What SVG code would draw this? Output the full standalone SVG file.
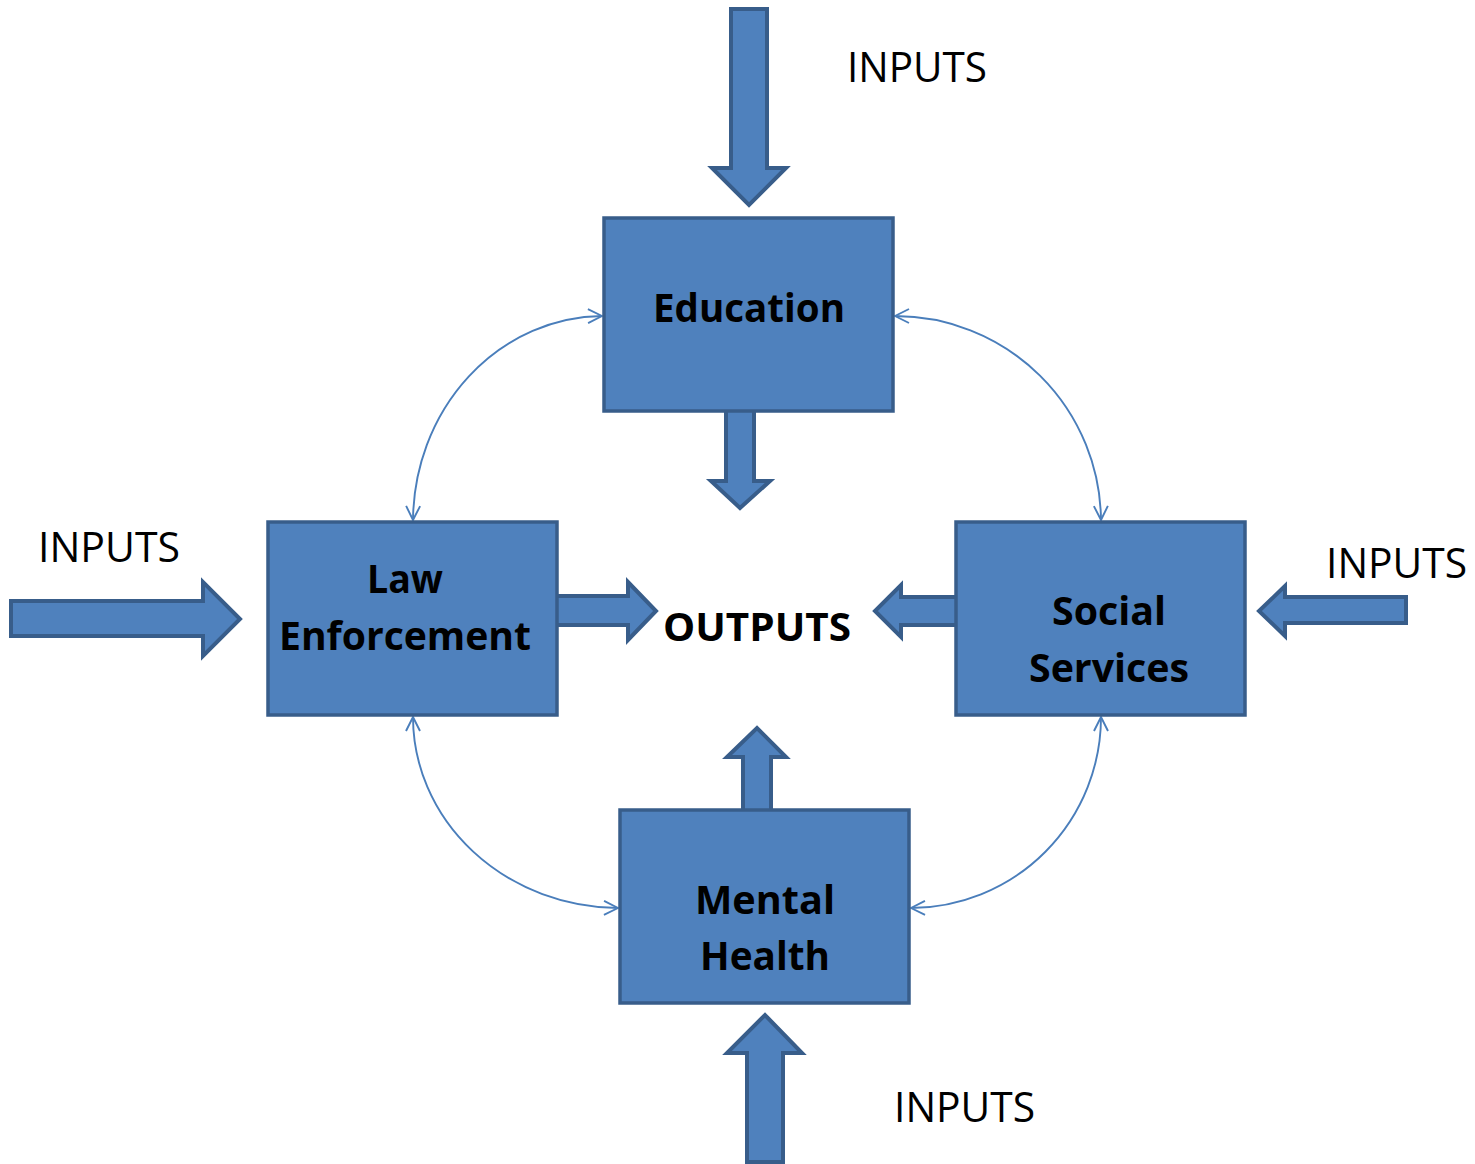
<svg xmlns="http://www.w3.org/2000/svg" width="1475" height="1164" viewBox="0 0 1475 1164">
<style>
.box{fill:#4f81bd;stroke:#385d8a;stroke-width:3.5}
.blk{fill:#4f81bd;stroke:#385d8a;stroke-width:4;stroke-linejoin:miter}
.con{fill:none;stroke:#4a7ebb;stroke-width:1.9}
.lbl{font-family:"Open Sans","Noto Sans","Liberation Sans",sans-serif;font-weight:bold;font-size:40px;fill:#000;text-anchor:middle}
.inp{font-family:"Open Sans","Noto Sans","Liberation Sans",sans-serif;font-size:42px;fill:#000}
</style>
<defs>
<marker id="ah" viewBox="0 0 16 16" markerWidth="16" markerHeight="16" refX="15" refY="8" orient="auto-start-reverse" markerUnits="userSpaceOnUse">
<path d="M1,1 L15,8 L1,15" fill="none" stroke="#4a7ebb" stroke-width="1.9"/>
</marker>
</defs>
<rect width="1475" height="1164" fill="#fff"/>
<g id="connectors">
<path class="con" d="M602,316 A191 206 0 0 0 413,520" marker-start="url(#ah)" marker-end="url(#ah)"/>
<path class="con" d="M895,316 A206 206 0 0 1 1101,520" marker-start="url(#ah)" marker-end="url(#ah)"/>
<path class="con" d="M413,717 A207 191 0 0 0 618,908" marker-start="url(#ah)" marker-end="url(#ah)"/>
<path class="con" d="M1101,717 A191 191 0 0 1 911,908" marker-start="url(#ah)" marker-end="url(#ah)"/>
</g>
<g id="block-arrows">
<polygon class="blk" points="731,9 767,9 767,168 786,168 749,205 712,168 731,168"/>
<polygon class="blk" points="726,405 754,405 754,481 770,481 740,508 711,481 726,481"/>
<polygon class="blk" points="11,601 203,601 203,582 240,619 203,656 203,636 11,636"/>
<polygon class="blk" points="552,596 628,596 628,582 656,611 628,640 628,625 552,625"/>
<polygon class="blk" points="961,597 901,597 901,585 875,611 901,637 901,625 961,625"/>
<polygon class="blk" points="1406,597 1285,597 1285,586 1259,611 1285,636 1285,623 1406,623"/>
<polygon class="blk" points="743,815 743,757 727,757 757,728 786,757 771,757 771,815"/>
<polygon class="blk" points="747,1162 747,1053 727,1053 765,1015 802,1053 783,1053 783,1162"/>
</g>
<g id="education">
<rect class="box" x="604" y="218" width="289" height="193"/>
<text class="lbl" x="749" y="322" textLength="192" lengthAdjust="spacingAndGlyphs">Education</text>
</g>
<g id="law-enforcement">
<rect class="box" x="268" y="522" width="289" height="193"/>
<text class="lbl" x="405" y="593" textLength="76" lengthAdjust="spacingAndGlyphs">Law</text>
<text class="lbl" x="405" y="650" textLength="252" lengthAdjust="spacingAndGlyphs">Enforcement</text>
</g>
<g id="social-services">
<rect class="box" x="956" y="522" width="289" height="193"/>
<text class="lbl" x="1109" y="625" textLength="114" lengthAdjust="spacingAndGlyphs">Social</text>
<text class="lbl" x="1109" y="682" textLength="160" lengthAdjust="spacingAndGlyphs">Services</text>
</g>
<g id="mental-health">
<rect class="box" x="620" y="810" width="289" height="193"/>
<text class="lbl" x="765" y="914" textLength="140" lengthAdjust="spacingAndGlyphs">Mental</text>
<text class="lbl" x="765" y="970" textLength="130" lengthAdjust="spacingAndGlyphs">Health</text>
</g>
<g id="outputs">
<text class="lbl" x="757" y="641" textLength="188" lengthAdjust="spacingAndGlyphs">OUTPUTS</text>
</g>
<g id="inputs">
<text class="inp" x="847" y="82" textLength="140" lengthAdjust="spacingAndGlyphs">INPUTS</text>
<text class="inp" x="38" y="562" textLength="142" lengthAdjust="spacingAndGlyphs">INPUTS</text>
<text class="inp" x="1326" y="578" textLength="141" lengthAdjust="spacingAndGlyphs">INPUTS</text>
<text class="inp" x="894" y="1122" textLength="141" lengthAdjust="spacingAndGlyphs">INPUTS</text>
</g>
</svg>
